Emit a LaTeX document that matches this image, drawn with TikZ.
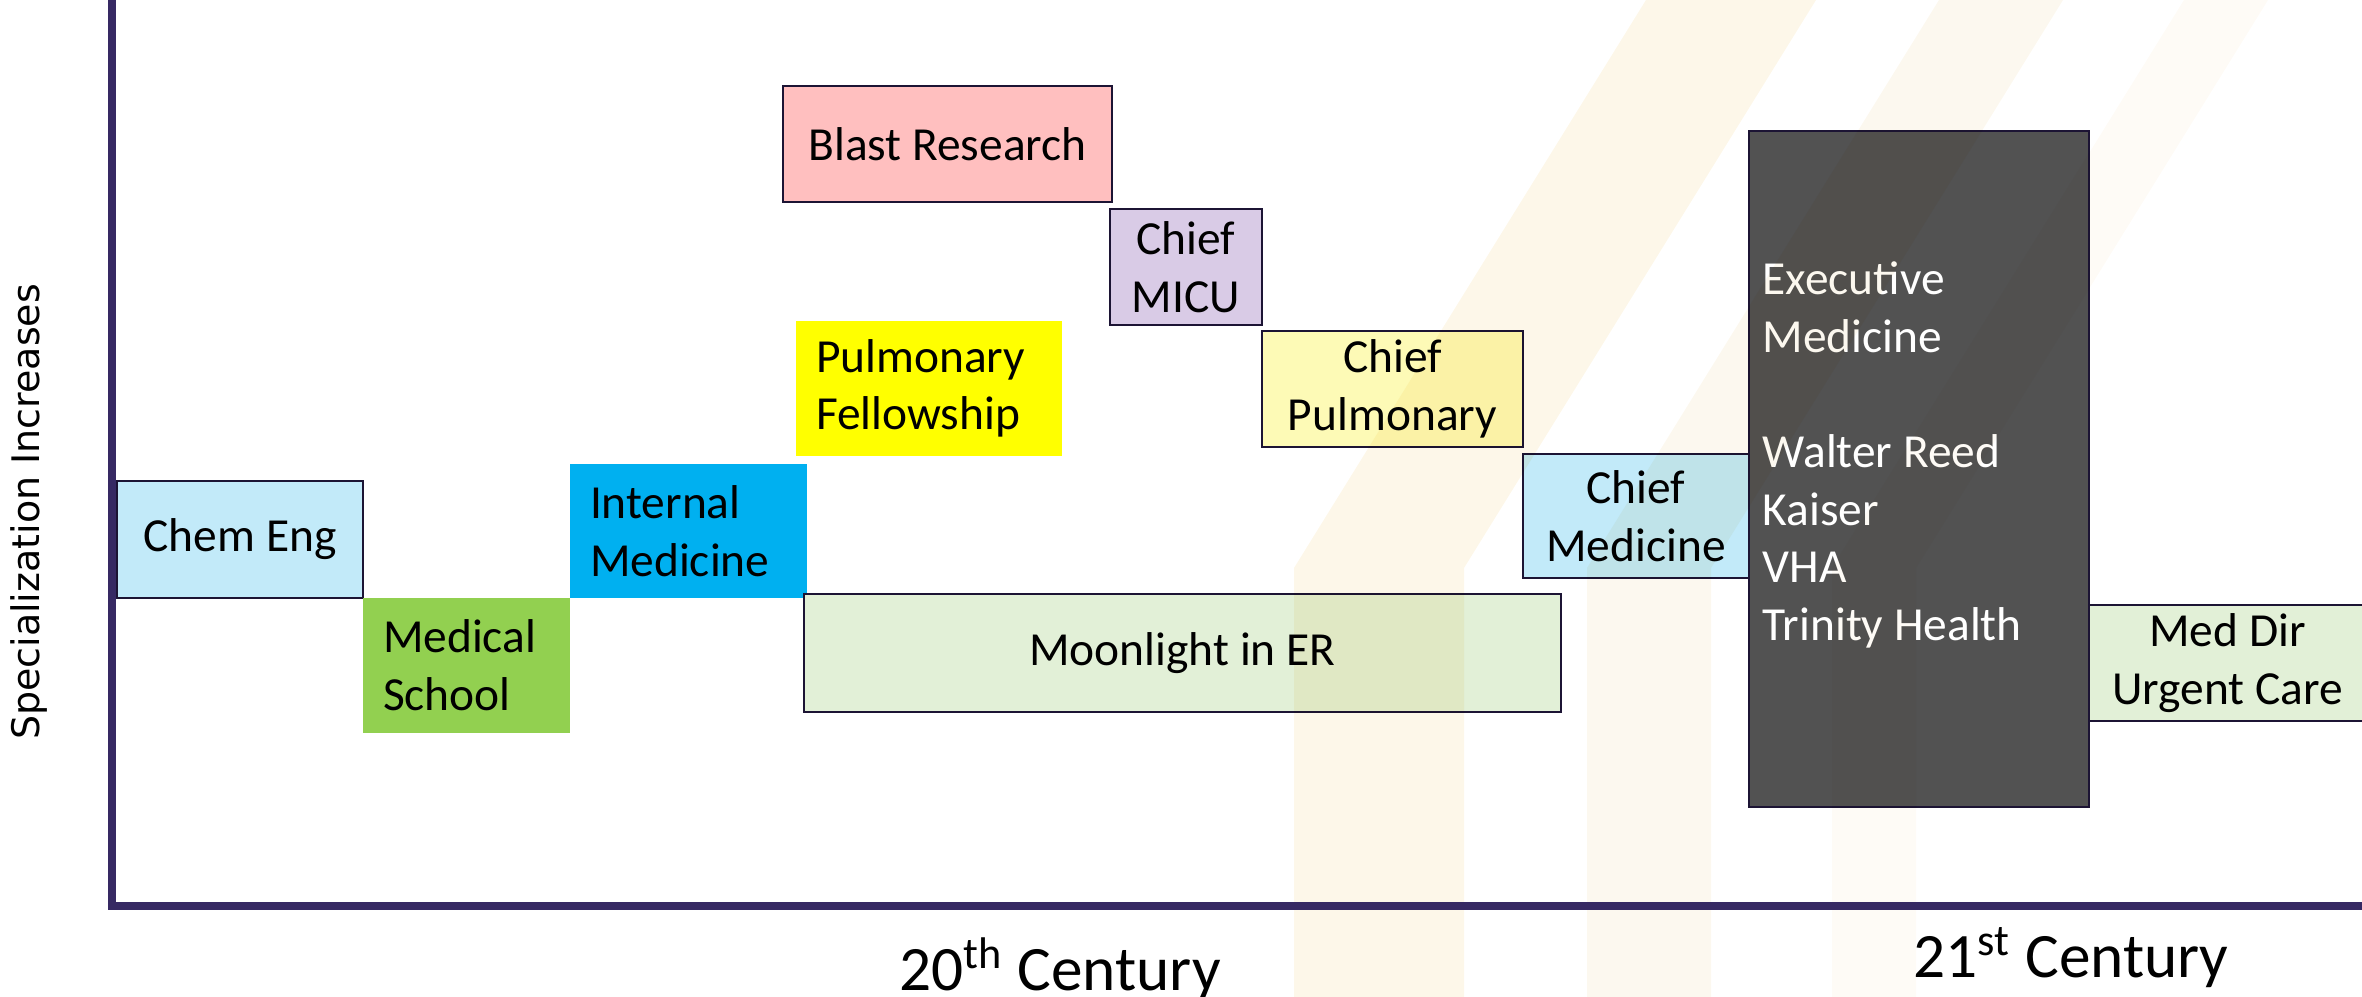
\documentclass[tikz,border=0pt]{standalone}
\usepackage{fontspec}
\setmainfont{Carlito}
\newfontfamily\axisfont{DejaVu Sans}
\usetikzlibrary{positioning}

\definecolor{axisline}{RGB}{54,41,99}
\definecolor{edge}{RGB}{28,20,52}
\definecolor{chemblue}{RGB}{194,234,249}
\definecolor{schoolgreen}{RGB}{146,208,80}
\definecolor{imblue}{RGB}{0,176,240}
\definecolor{fellowyellow}{RGB}{255,255,0}
\definecolor{blastpink}{RGB}{255,191,191}
\definecolor{micupurple}{RGB}{217,203,230}
\definecolor{pulmyellow}{RGB}{253,250,182}
\definecolor{moongreen}{RGB}{226,240,215}
\definecolor{execgray}{RGB}{82,82,82}
\definecolor{stripeA}{RGB}{253,247,233}
\definecolor{stripeB}{RGB}{252,248,239}
\definecolor{stripeC}{RGB}{254,251,246}

\begin{document}
\begin{tikzpicture}[every node/.style={font=\fontsize{13.5}{16.4}\selectfont}]

% Styles for the career boxes
\tikzstyle{job} = [rectangle, draw=edge, line width=0.6pt, inner sep=0pt, outer sep=0pt, align=center]
\tikzstyle{block} = [rectangle, draw=none, inner xsep=0.2cm, inner ysep=0pt, outer sep=0pt, align=left]
\tikzstyle{axis} = [line width=2.2pt, draw=axisline]
\tikzstyle{century} = [font=\fontsize{18}{20}\selectfont, anchor=base]

\useasboundingbox (0,0) rectangle (23.62,9.97);

% Boxes
\node (chem) [job, fill=chemblue, minimum width=2.46cm, minimum height=1.17cm] at (2.40,4.575) {Chem Eng};
\node (school) [block, fill=schoolgreen, text width=1.67cm, minimum height=1.35cm, anchor=north west] at (chem.south east) {Medical\\School};
\node (internal) [block, fill=imblue, text width=1.97cm, minimum height=1.34cm, anchor=south west] at (school.north east) {Internal\\Medicine};
\node (moon) [job, fill=moongreen, minimum width=7.57cm, minimum height=1.18cm] at (11.825,3.44) {Moonlight in ER};
\node (fellow) [block, fill=fellowyellow, text width=2.26cm, minimum height=1.35cm] at (9.29,6.085) {Pulmonary\\Fellowship};
\node (blast) [job, fill=blastpink, minimum width=3.29cm, minimum height=1.16cm] at (9.475,8.53) {Blast Research};
\node (micu) [job, fill=micupurple, minimum width=1.52cm, minimum height=1.16cm, anchor=north west] at ([xshift=-0.02cm, yshift=-0.07cm]blast.south east) {Chief\\MICU};
\node (chiefpulm) [job, fill=pulmyellow, minimum width=2.61cm, minimum height=1.16cm, anchor=north west] at ([yshift=-0.06cm]micu.south east) {Chief\\Pulmonary};
\node (chiefmed) [job, fill=chemblue, minimum width=2.26cm, minimum height=1.24cm, anchor=north west] at ([yshift=-0.07cm]chiefpulm.south east) {Chief\\Medicine};
\node (exec) [job, fill=execgray, minimum width=3.40cm, minimum height=6.76cm, anchor=west] at (chiefmed.east |- 0,5.28) {};
\node (exectext) [text=white, align=left, anchor=west, inner sep=0pt] at ([xshift=0.13cm, yshift=0.14cm]exec.west) {Executive\\Medicine\\[16.4pt]Walter Reed\\Kaiser\\VHA\\Trinity Health};
\node (urgent) [job, fill=moongreen, minimum width=2.77cm, minimum height=1.16cm, anchor=west] at (exec.east |- 0,3.34) {Med Dir\\Urgent Care};

% Faint stripes in the background
\begin{scope}[blend mode=multiply]
\foreach \x/\w/\c in {12.94/1.70/stripeA, 15.87/1.24/stripeB, 18.32/0.84/stripeC}
  \fill[\c] (\x,0) -- ++(0,4.29) -- ++(3.52,5.68) -- ++(\w,0) -- ++(-3.52,-5.68) -- ++(0,-4.29) -- cycle;
\end{scope}

% Axes
\coordinate (origin) at (1.12,0.91);
\coordinate (ytop) at (1.12,9.97);
\coordinate (xend) at (23.62,0.91);
\draw [axis] (ytop) -- (origin) -- (xend);

% Axis labels
\node (ylabel) [rotate=90, anchor=base, font=\axisfont\fontsize{10.8}{12}\selectfont] at (0.40,4.85) {Specialization Increases};
\node (c20) [century] at (10.60,0.06) {20\textsuperscript{th} Century};
\node (c21) [century] at (20.71,0.19) {21\textsuperscript{st} Century};

\end{tikzpicture}
\end{document}
